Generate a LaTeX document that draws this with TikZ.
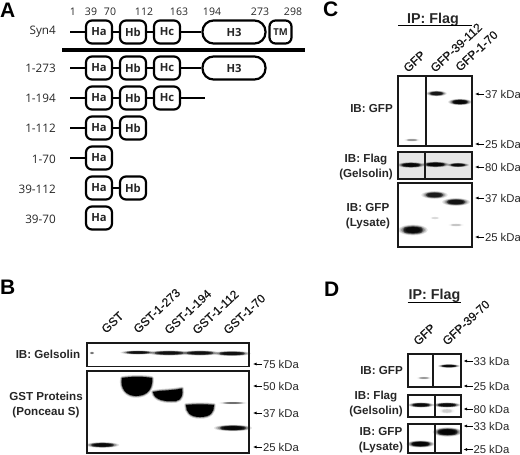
\documentclass[tikz,border=0pt]{standalone}
\usepackage{fontspec}
\setmainfont{Liberation Sans}
\newfontfamily\dfont{Open Sans}
\newfontfamily\collfont[FakeBold=0.6]{Liberation Sans}
\newcommand{\band}[5]{%
  \foreach \s/\o in {1.45/.1,1.3/.14,1.15/.2,1/.3,.85/.45,.7/.6}{%
    \fill[black,opacity=#5*\o]
      (#1,#2) ellipse[x radius=#3/2*\s+1,y radius=#4/2*\s+.6];}%
  \fill[black,opacity=#5*.35,rounded corners=#4*.4pt]
      (#1-#3/2,#2-#4/2) rectangle (#1+#3/2,#2+#4/2);%
}
\newcommand{\blob}[1]{%
  \fill[black] #1;
  \draw[black,opacity=.18,line width=3.5pt,line join=round] #1;
  \draw[black,opacity=.4,line width=1.6pt,line join=round] #1;}
\newcommand{\kda}[4]{%
  \node[kdalabel] (#1) at (#2,#3) {#4};
  \draw[kdaarrow] (#1.west) -- ++(-9,0);}
\usetikzlibrary{arrows.meta}
\tikzset{
  x=1pt,y=-1pt,
  dom/.style={draw=black,line width=2.2pt,fill=white,rounded corners=6pt,minimum height=23pt,
    inner sep=0pt,font=\dfont\bfseries\fontsize{11.2}{11}\selectfont,text=black!85},
  ha/.style={dom,minimum width=26pt},
  hthree/.style={dom,minimum width=63pt,rounded corners=11pt},
  tmbox/.style={dom,minimum width=22pt,font=\dfont\bfseries\fontsize{9.5}{9}\selectfont},
  bone/.style={line width=2pt,draw=black},
  rowlabel/.style={anchor=east,inner sep=0pt,font=\dfont\fontsize{11.7}{12}\selectfont,text=black!85},
  numlabel/.style={inner sep=0pt,font=\dfont\fontsize{10.5}{11}\selectfont,text=black!85},
  letter/.style={anchor=west,inner sep=0pt,font=\bfseries\fontsize{21}{21}\selectfont},
  kdalabel/.style={anchor=west,inner sep=0pt,outer sep=1pt,font=\fontsize{11.3}{12}\selectfont,text=black!85},
  kdaarrow/.style={-{Latex[length=3.5pt,width=3pt]},line width=.8pt},
  blot/.style={draw=black!90,line width=1.1pt},
  ib/.style={inner sep=0pt,align=center,font=\bfseries\fontsize{11.6}{15}\selectfont,text=black!85},
  coll/.style={anchor=base west,rotate=43,inner sep=0pt,font=\collfont\fontsize{12}{12}\selectfont,text=black!90},
  iplabel/.style={inner sep=0pt,font=\bfseries\fontsize{14.3}{14}\selectfont,text=black!85},
}
\begin{document}
\begin{tikzpicture}
\useasboundingbox (0,0) rectangle (520,455);
% Panel A
\node[letter] (lA) at (0,10) {A};
\foreach \n/\x/\y/\t in {n1/73/12/1,n39/91/12/39,n70/110/12/70,n112/144/12/112,n163/179/12/163,n194/212/12/194,n273/260/12/273,n298/293/12/298}
  \node[numlabel] (\n) at (\x,\y) {\t};
\node[rowlabel] (r0) at (56,32) {Syn4};
\node[rowlabel] (r1) at (56,68) {1-273};
\node[rowlabel] (r2) at (56,98) {1-194};
\node[rowlabel] (r3) at (56,128) {1-112};
\node[rowlabel] (r4) at (56,159) {1-70};
\node[rowlabel] (r5) at (56,189) {39-112};
\node[rowlabel] (r6) at (56,219) {39-70};
\fill[black] (62,48) rectangle (305,52);
% Syn4
\coordinate (s0) at (70,32);
\node[ha] (a0) at (99,32) {Ha};
\node[ha] (b0) at (133,32) {Hb};
\node[ha] (c0) at (167,32) {Hc};
\node[hthree] (h0) at (234,32) {H3};
\node[tmbox] (t0) at (280.5,32) {TM};
\draw[bone] (s0) -- (a0) (a0) -- (b0) (b0) -- (c0) (c0) -- (h0);
% 1-273
\coordinate (s1) at (70,68);
\node[ha] (a1) at (99,68) {Ha};
\node[ha] (b1) at (133,68) {Hb};
\node[ha] (c1) at (167,68) {Hc};
\node[hthree] (h1) at (234,68) {H3};
\draw[bone] (s1) -- (a1) (a1) -- (b1) (b1) -- (c1) (c1) -- (h1);
% 1-194
\coordinate (s2) at (70,98);
\coordinate (e2) at (205,98);
\node[ha] (a2) at (99,98) {Ha};
\node[ha] (b2) at (133,98) {Hb};
\node[ha] (c2) at (167,98) {Hc};
\draw[bone] (s2) -- (a2) (a2) -- (b2) (b2) -- (c2) (c2) -- (e2);
% 1-112
\coordinate (s3) at (70,128);
\node[ha] (a3) at (99,128) {Ha};
\node[ha] (b3) at (133,128) {Hb};
\draw[bone] (s3) -- (a3) (a3) -- (b3);
% 1-70
\coordinate (s4) at (70,158);
\node[ha] (a4) at (99,158) {Ha};
\draw[bone] (s4) -- (a4);
% 39-112
\node[ha] (a5) at (99,188) {Ha};
\node[ha] (b5) at (133,188) {Hb};
\draw[bone] (a5) -- (b5);
% 39-70
\node[ha] (a6) at (99,218) {Ha};

% Panel B
\node[letter] (lB) at (0,287) {B};
\foreach \n/\x/\y/\t in {b1/106/334/GST,b2/138/334/GST-1-273,b3/169/335/GST-1-194,b4/197/335/GST-1-112,b5/228/335/GST-1-70}
  \node[coll] (\n) at (\x,\y) {\t};
\band{92}{353}{2}{1}{.4}
\band{138}{352.5}{23}{1.8}{1}
\band{169}{353}{28}{2.6}{1}
\band{200}{353}{26}{2.6}{1}
\band{232}{353.5}{25}{2.6}{1}
\blob{(122,378) .. controls (130,376.5) and (145,376.5) .. (152,378) .. controls (153,388) and (148,396) .. (136,396) .. controls (126,396) and (120,388) .. (122,378) -- cycle}
\blob{(153,392) .. controls (162,390) and (170,391) .. (182,388.5) .. controls (183,394) and (182,400) .. (176,401) .. controls (165,402) and (154,400) .. (153,392) -- cycle}
\blob{(186,405) .. controls (195,404) and (205,404) .. (214,405) .. controls (214,412) and (211,417) .. (200,417) .. controls (190,417) and (186,412) .. (186,405) -- cycle}
\band{233}{428}{25}{3.5}{1.2}
\band{233}{403}{19}{.7}{.4}
\band{102.5}{445}{22}{3}{1.1}
\draw[blot] (87,343) rectangle (249,366.5);
\draw[blot] (87,371) rectangle (249,453);
\kda{k75}{262}{364}{75 kDa}
\kda{k50}{262}{386}{50 kDa}
\kda{k37}{262}{413}{37 kDa}
\kda{k25}{262}{447}{25 kDa}
\node[ib] (bl1) at (48,354.5) {IB: Gelsolin};
\node[ib] (bl2) at (46,405) {GST Proteins\\(Ponceau S)};

% Panel C
\node[letter] (lC) at (323,9) {C};
\node[iplabel] (ipc) at (433,20) {IP: Flag};
\draw[line width=1.2pt] (398,25.5) -- (472,25.5);
\foreach \n/\x/\y/\t in {c1/408/73/GFP,c2/435/73/GFP-39-112,c3/460/72/GFP-1-70}
  \node[coll] (\n) at (\x,\y) {\t};
\fill[black!10] (398,152) rectangle (472,179);
\band{436.5}{93.5}{13}{3}{.9}
\band{460}{102}{15}{3.5}{1.2}
\band{412}{140}{10}{1}{.25}
\draw[blot] (398,76) rectangle (472,146) (426,76) -- (426,146);
\band{411}{165}{18}{3}{1.2}
\band{435.5}{164.5}{18}{3}{1.2}
\band{458}{165}{14}{2}{1.1}
\draw[blot] (398,152) rectangle (472,179) (425,152) -- (425,179);
\band{434.5}{195}{17}{4.5}{.85}
\band{456}{202}{18}{4.5}{.95}
\band{413}{230}{19}{6.5}{1.1}
\band{435}{218}{6}{1}{.08}
\band{456}{225}{10}{1.2}{.12}
\draw[blot] (398,183) rectangle (472,247);
\kda{c37a}{484}{94}{37 kDa}
\kda{c25a}{484}{144}{25 kDa}
\kda{c80}{484}{167}{80 kDa}
\kda{c37b}{484}{198}{37 kDa}
\kda{c25b}{484}{237}{25 kDa}
\node[ib,anchor=east] (cl1) at (393,109) {IB: GFP};
\node[ib] (cl2) at (366,166.5) {IB: Flag\\(Gelsolin)};
\node[ib] (cl3) at (368,216) {IB: GFP\\(Lysate)};

% Panel D
\node[letter] (lD) at (324,289) {D};
\node[iplabel] (ipd) at (434.5,296) {IP: Flag};
\draw[line width=1pt] (407.5,302.5) -- (461,302.5);
\foreach \n/\x/\y/\t in {d1/418/346/GFP,d2/447/346/GFP-39-70}
  \node[coll] (\n) at (\x,\y) {\t};
\band{449}{366}{14}{1.5}{1.1}
\band{424}{378}{9}{.8}{.25}
\draw[blot] (408,354) rectangle (461,387) (433,354) -- (433,387);
\band{447}{411}{10}{3}{.1}
\band{421}{405}{17}{2.6}{1.1}
\band{447}{405}{18}{2.6}{1.1}
\draw[blot] (408,395) rectangle (461,417) (435,395) -- (435,417);
\band{420.5}{444}{18}{4}{1.3}
\band{447.5}{432}{19}{5.5}{1.3}
\draw[blot] (408,424) rectangle (461,453) (435,424) -- (435,453);
\kda{d33a}{472.5}{361}{33 kDa}
\kda{d25a}{472.5}{386}{25 kDa}
\kda{d80}{472.5}{409}{80 kDa}
\kda{d33b}{472.5}{426}{33 kDa}
\kda{d25b}{472.5}{449.5}{25 kDa}
\node[ib,anchor=east] (dl1) at (403,371) {IB: GFP};
\node[ib] (dl2) at (376,404) {IB: Flag\\(Gelsolin)};
\node[ib] (dl3) at (381,440) {IB: GFP\\(Lysate)};
\end{tikzpicture}
\end{document}
